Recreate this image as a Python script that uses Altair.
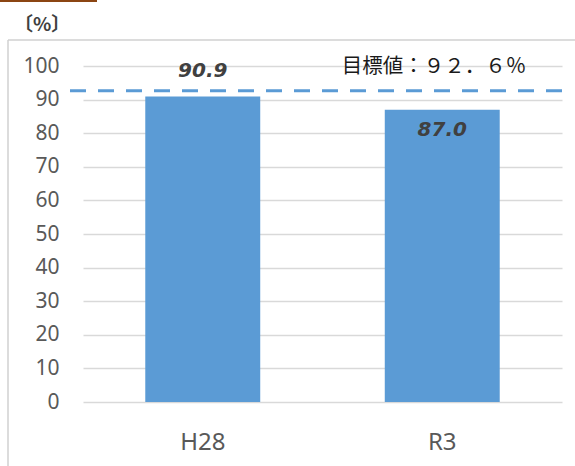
import altair as alt
import pandas as pd

# Survey results by year (%)
years = ["H28", "R3"]
rates = [90.9, 87.0]
target = 92.6
target_label = "目標値：９２．６％"
unit_label = "〔%〕"

df = pd.DataFrame({"year": years, "rate": rates})
tgt = pd.DataFrame({"target": [target], "label": [target_label]})
one = pd.DataFrame({"k": [0]})

W, H = 479, 336
L, T = 83, 66

x_axis = alt.Axis(labelAngle=0, labelFontSize=24, labelColor="#595959",
                  labelFont="Noto Sans", labelPadding=28,
                  domain=False, ticks=False, grid=False)
x_scale = alt.Scale(paddingInner=0.52, paddingOuter=0.26)
y_axis = alt.Axis(values=list(range(0, 101, 10)), labelFontSize=21,
                  labelColor="#595959", labelFont="Noto Sans",
                  labelOverlap=False, labelPadding=24,
                  gridColor="#D9D9D9", gridWidth=1.5,
                  domain=False, ticks=False)
y_scale = alt.Scale(domain=[0, 100], nice=False)

x_enc = alt.X("year:N", sort=years, title=None, scale=x_scale, axis=x_axis)


def y_of(field):
    return alt.Y(field, title=None, scale=y_scale, axis=y_axis)


base = alt.Chart(df)

bars = base.mark_bar(color="#5B9BD5").encode(x=x_enc, y=y_of("rate:Q"))

label_style = dict(font="DejaVu Sans", fontSize=20, fontWeight="bold",
                   fontStyle="italic", color="#404040")
label_above = base.transform_filter(alt.datum.year == "H28").mark_text(
    dy=-26, **label_style
).encode(x=x_enc, y=y_of("rate:Q"), text=alt.Text("rate:Q", format=".1f"))
label_inside = base.transform_filter(alt.datum.year == "R3").mark_text(
    dy=20, **label_style
).encode(x=x_enc, y=y_of("rate:Q"), text=alt.Text("rate:Q", format=".1f"))

# Dashed target line, extended slightly past the left edge of the plot
target_rule = alt.Chart(tgt).mark_rule(
    color="#5B9BD5", strokeWidth=3, strokeDash=[16, 12]
).encode(x=alt.value(-13), x2=alt.value(W + 1), y=y_of("target:Q"))

target_text = alt.Chart(tgt).mark_text(
    font="Noto Sans CJK JP", fontSize=20.5, color="#1a1a1a", align="center", dy=-24
).encode(x=alt.value(351), y=y_of("target:Q"), text="label:N")

# Outer frame (left and top edges) and decorations
frame_left = alt.Chart(one).mark_rule(color="#D0D0D0", strokeWidth=1.5).encode(
    x=alt.value(8 - L), y=alt.value(40 - T), y2=alt.value(H + 80)
)
frame_top = alt.Chart(one).mark_rule(color="#D0D0D0", strokeWidth=1.5).encode(
    x=alt.value(8 - L), x2=alt.value(W + 20), y=alt.value(40 - T)
)

accent = alt.Chart(one).mark_rect(color="#8B4513").encode(
    x=alt.value(-L), x2=alt.value(97 - L), y=alt.value(-T), y2=alt.value(2 - T)
)

unit = alt.Chart(one).mark_text(
    font="Noto Sans CJK JP", fontSize=19, fontWeight="bold", color="#404040",
    align="left", baseline="middle"
).encode(x=alt.value(14 - L), y=alt.value(25 - T), text=alt.value(unit_label))

chart = alt.layer(
    frame_left, frame_top, accent, bars, target_rule, label_above,
    label_inside, target_text, unit
).properties(
    width=W, height=H,
    background="white",
    autosize=alt.AutoSizeParams(type="none"),
    padding={"left": L, "top": T, "right": 575 - L - W, "bottom": 466 - T - H},
).configure_view(strokeWidth=0, stroke=None)

chart.save("out.html", embed_options={"renderer": "svg", "actions": False})
